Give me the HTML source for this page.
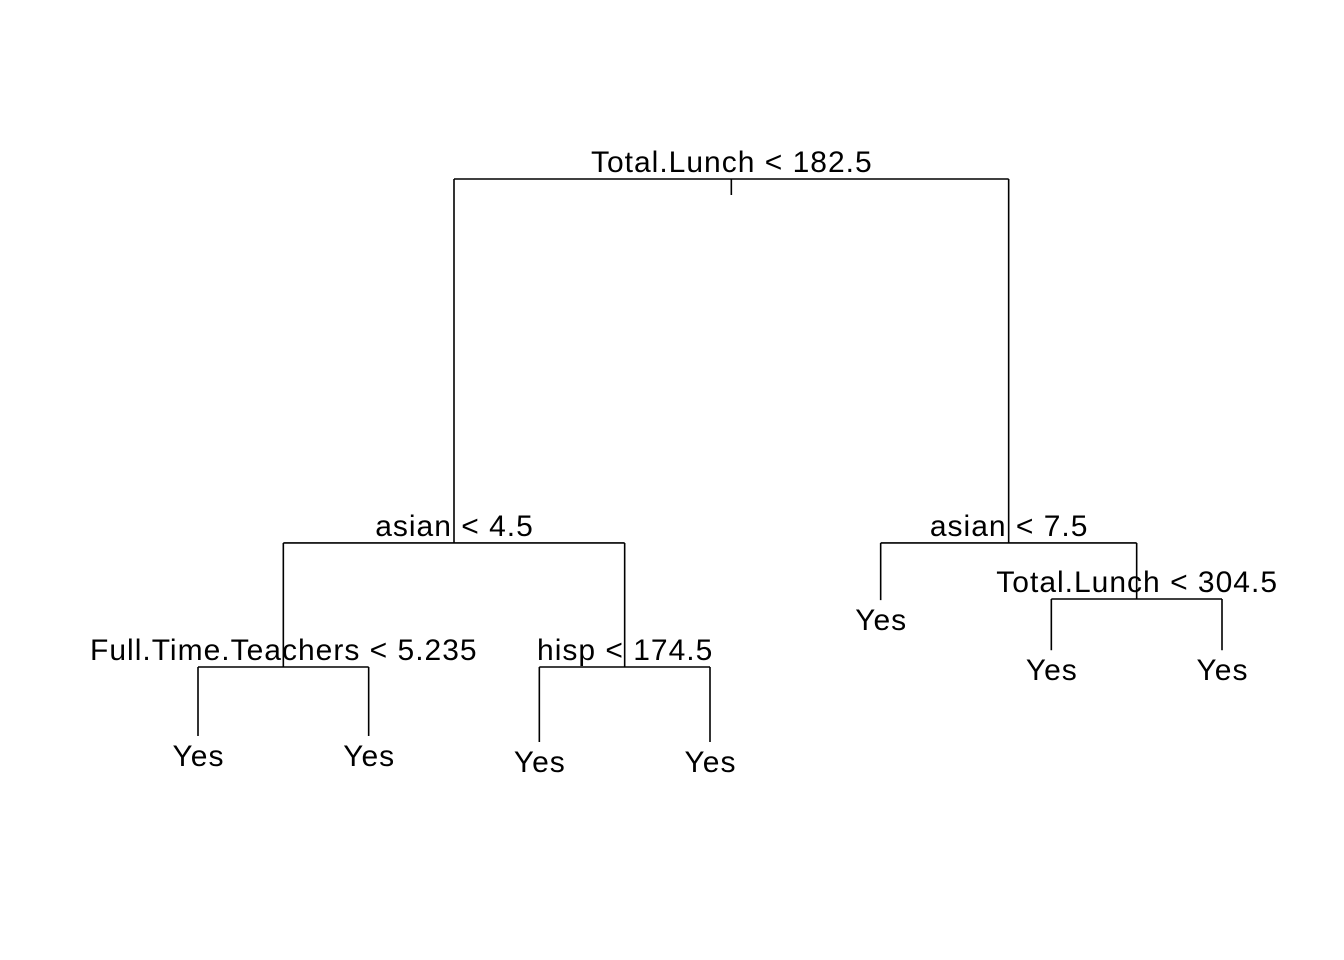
<!DOCTYPE html>
<html><head><meta charset="utf-8"><style>
html,body{margin:0;padding:0;background:#fff}
svg{display:block}
text{font-family:"Liberation Sans",Arial,sans-serif;font-size:30px;letter-spacing:1px;fill:#000}
</style></head><body>
<svg id="chart" width="1344" height="960" viewBox="0 0 1344 960" xmlns="http://www.w3.org/2000/svg"></svg>
<script>
// Tree nodes (preorder): label, parent index, node height (deviance-like scale)
const nodeLabels = ["Total.Lunch < 182.5","asian < 4.5","Full.Time.Teachers < 5.235","Yes","Yes","hisp < 174.5","Yes","Yes","asian < 7.5","Yes","Total.Lunch < 304.5","Yes","Yes"];
const nodeParents = [-1,0,1,2,2,1,5,5,0,8,8,10,10];
const nodeHeights = [100,35.35,13.32,1.07,1.07,13.32,0,0,35.35,25.2,25.4,16.3,16.3];

const svg = document.getElementById('chart');
const NS = 'http://www.w3.org/2000/svg';
const hMax = Math.max(...nodeHeights), hMin = Math.min(...nodeHeights);
const yScale = v => 179 + (hMax - v) / (hMax - hMin) * (742 - 179);
const n = nodeLabels.length;
const children = nodeLabels.map(() => []);
nodeParents.forEach((p, i) => { if (p >= 0) children[p].push(i); });
const leaves = [];
(function walk(i){ if (!children[i].length) leaves.push(i); else children[i].forEach(walk); })(0);
const xScale = k => 198 + k * (1222 - 198) / (leaves.length - 1);
const xs = new Array(n);
(function pos(i){
  if (!children[i].length) { xs[i] = xScale(leaves.indexOf(i)); return xs[i]; }
  const c = children[i].map(pos);
  xs[i] = c.reduce((a,b)=>a+b,0)/c.length; return xs[i];
})(0);

function line(x1,y1,x2,y2,name){
  const l = document.createElementNS(NS,'line');
  l.setAttribute('x1',x1);l.setAttribute('y1',y1);l.setAttribute('x2',x2);l.setAttribute('y2',y2);
  l.setAttribute('stroke','#000');l.setAttribute('stroke-width','1.6');
  
  
  svg.appendChild(l);
}
function text(x,y,s,name){
  const t = document.createElementNS(NS,'text');
  t.setAttribute('x',x + 0.5);t.setAttribute('y',y);t.setAttribute('text-anchor','middle');
  t.textContent = s;
  
  
  svg.appendChild(t);
}
line(xs[0], yScale(nodeHeights[0]), xs[0], yScale(nodeHeights[0]) + 16, 'root-tick');
for (let i = 0; i < n; i++) {
  const y = yScale(nodeHeights[i]);
  if (children[i].length) {
    const cx = children[i].map(c => xs[c]);
    line(Math.min(...cx), y, Math.max(...cx), y, 'split-bar-' + i);
    children[i].forEach(c => line(xs[c], y, xs[c], yScale(nodeHeights[c]), 'branch-' + c));
    text(xs[i], y - 7, nodeLabels[i], 'split-label-' + i);
  } else {
    text(xs[i], y + 30, nodeLabels[i], 'leaf-label-' + i);
  }
}
</script>
</body></html>
